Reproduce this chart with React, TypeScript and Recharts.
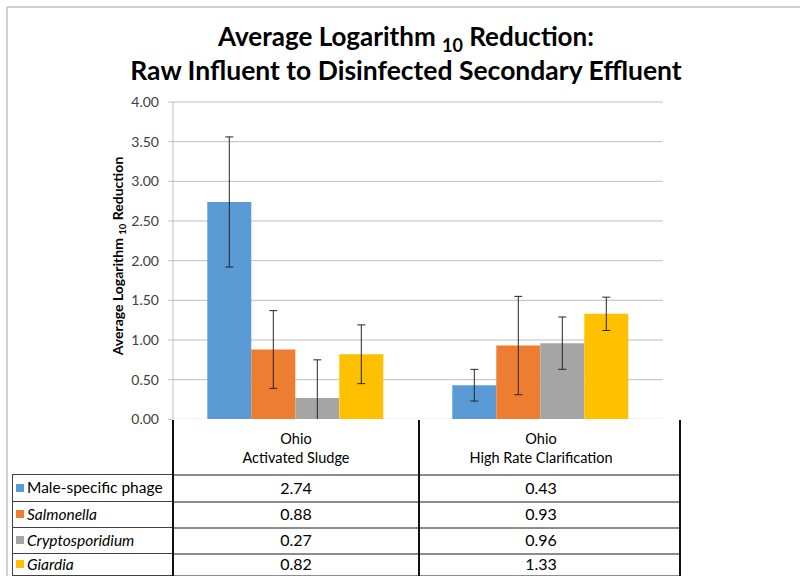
import React from "react";
import { BarChart, Bar, XAxis, YAxis, CartesianGrid, ErrorBar } from "recharts";

const sites = ["Ohio", "Ohio"];
const processes = ["Activated Sludge", "High Rate Clarification"];
const organisms = ["Male-specific phage", "Salmonella", "Cryptosporidium", "Giardia"];
const italicNames = [false, true, true, true];
const colors = ["#5B9BD5", "#ED7D31", "#A5A5A5", "#FFC000"];

// average log10 reduction per site (Activated Sludge, High Rate Clarification)
const phage = [2.74, 0.43];
const salmonella = [0.88, 0.93];
const cryptosporidium = [0.27, 0.96];
const giardia = [0.82, 1.33];

// error bar half-lengths
const phageErr = [0.82, 0.2];
const salmonellaErr = [0.49, 0.62];
const cryptosporidiumErr = [0.48, 0.33];
const giardiaErr = [0.37, 0.21];

const yTicks = [0, 0.5, 1, 1.5, 2, 2.5, 3, 3.5, 4];

const series = [phage, salmonella, cryptosporidium, giardia];
const seriesErr = [phageErr, salmonellaErr, cryptosporidiumErr, giardiaErr];

const data = processes.map((p, i) => {
  const row: Record<string, string | number> = { name: p };
  series.forEach((s, k) => {
    row[`v${k}`] = s[i];
    row[`e${k}`] = seriesErr[k][i];
  });
  return row;
});

const FONT = "Lato, 'Open Sans', sans-serif";

// table geometry
const colX = [12, 173, 419, 680];
const rowY = [418, 474, 501, 527, 553, 575];
const bandCenters = [296, 541];

function Line({ x, y, w, h, color }: { x: number; y: number; w: number; h: number; color: string }) {
  return <div style={{ position: "absolute", left: x, top: y, width: w, height: h, background: color }} />;
}

function DataTable() {
  return (
    <div style={{ position: "absolute", left: 0, top: 0, width: 800, height: 576, pointerEvents: "none", fontFamily: FONT, color: "#000" }}>
      {/* white backing under the plot so nothing leaks below zero */}
      <div style={{ position: "absolute", left: colX[1], top: rowY[0] + 1, width: colX[3] - colX[1], height: 576 - rowY[0], background: "#fff" }} />
      {/* header: site names */}
      {processes.map((p, i) => (
        <div
          key={p}
          style={{ position: "absolute", left: bandCenters[i] - 120, width: 240, top: 429, textAlign: "center", fontSize: 14.5, lineHeight: "19px" }}
        >
          <div>{sites[i]}</div>
          <div>{p}</div>
        </div>
      ))}
      {/* rows */}
      {organisms.map((o, k) => {
        const top = rowY[k + 1];
        const h = rowY[k + 2] - top;
        return (
          <React.Fragment key={o}>
            <div style={{ position: "absolute", left: 16, top: top + (h - 8) / 2, width: 8, height: 8, background: colors[k] }} />
            <div
              style={{ position: "absolute", left: 27, top, height: h, lineHeight: `${h}px`, fontSize: 15.5, fontStyle: italicNames[k] ? "italic" : "normal" }}
            >
              {o}
            </div>
            {series[k].map((v, i) => (
              <div
                key={i}
                style={{ position: "absolute", left: bandCenters[i] - 60, width: 120, top, height: h, lineHeight: `${h}px`, textAlign: "center", fontSize: 16 }}
              >
                {v.toFixed(2)}
              </div>
            ))}
          </React.Fragment>
        );
      })}
      {/* grid lines */}
      {rowY.slice(1).map((y) => (
        <React.Fragment key={y}>
          <Line x={colX[0]} y={y} w={colX[1] - colX[0]} h={1} color="#404040" />
          <Line x={colX[1]} y={y - 0.5} w={colX[3] - colX[1]} h={2} color="#8c8c8c" />
        </React.Fragment>
      ))}
      <Line x={colX[0]} y={rowY[1]} w={1} h={rowY[5] - rowY[1]} color="#404040" />
      {colX.slice(1).map((x) => (
        <Line key={x} x={x - 1} y={rowY[0] + 2} w={2} h={rowY[5] - rowY[0] - 1} color="#111" />
      ))}
    </div>
  );
}

function Overlay() {
  return (
    <svg width={800} height={576} style={{ position: "absolute", left: 0, top: 0, pointerEvents: "none" }} fontFamily={FONT}>
      <line x1={7} y1={7} x2={800} y2={7} stroke="#a6a6a6" />
      <line x1={7} y1={7} x2={7} y2={576} stroke="#a6a6a6" />
      <text x={406} y={46} textAnchor="middle" fontSize={26} fontWeight={700} fill="#000">
        Average Logarithm{" "}
        <tspan fontSize={18} dy={6}>
          10
        </tspan>
        <tspan dy={-6}> Reduction:</tspan>
      </text>
      <text x={406} y={80} textAnchor="middle" fontSize={26.5} fontWeight={700} fill="#000">
        Raw Influent to Disinfected Secondary Effluent
      </text>
      <text transform="translate(123,256) rotate(-90)" textAnchor="middle" fontSize={14} fontWeight={700} fill="#000">
        Average Logarithm{" "}
        <tspan fontSize={9.5} dy={3}>
          10
        </tspan>
        <tspan dy={-3}> Reduction</tspan>
      </text>
    </svg>
  );
}

export default function App() {
  return (
    <div style={{ position: "absolute", left: 0, top: 0, width: 800, height: 576, background: "#fff", overflow: "hidden" }}>
      <BarChart
        width={800}
        height={576}
        data={data}
        margin={{ top: 102, right: 137, bottom: 140, left: 113 }}
        barCategoryGap="14%"
        barGap={0}
      >
        <CartesianGrid vertical={false} stroke="#bfbfbf" />
        <XAxis dataKey="name" hide />
        <YAxis
          width={60}
          domain={[0, 4]}
          ticks={yTicks}
          interval={0}
          tickFormatter={(v: number) => v.toFixed(2)}
          axisLine={{ stroke: "#bfbfbf" }}
          tickLine={{ stroke: "#bfbfbf" }}
          tickSize={5}
          tickMargin={9}
          tick={{ fill: "#404040", fontSize: 14, fontFamily: FONT }}
        />
        {series.map((_, k) => (
          <Bar key={k} dataKey={`v${k}`} fill={colors[k]} isAnimationActive={false}>
            <ErrorBar dataKey={`e${k}`} width={4} stroke="#262626" strokeWidth={1} direction="y" isAnimationActive={false} />
          </Bar>
        ))}
      </BarChart>
      <DataTable />
      <Overlay />
    </div>
  );
}
